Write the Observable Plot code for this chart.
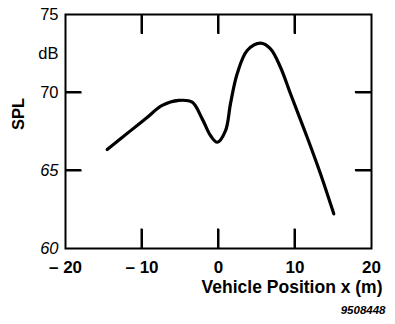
<!DOCTYPE html>
<html>
<head>
<meta charset="utf-8">
<script src="https://cdn.jsdelivr.net/npm/d3@7"></script>
<script src="https://cdn.jsdelivr.net/npm/@observablehq/plot@0.6"></script>
<style>
  html, body { margin: 0; padding: 0; background: #fff; }
</style>
</head>
<body>
<div id="chart"></div>
<script>
// Vehicle position (m)
const positionX = [-14.55, -11.73, -9.54, -7.36, -5.19, -3.44, -2.13, -1.05, -0.17, 0.92, 1.57, 2.44, 3.75, 5.49, 6.80, 8.10, 9.41, 11.59, 13.33, 15.07];
// SPL (dB)
const splDb = [66.35, 67.46, 68.31, 69.17, 69.49, 69.38, 68.31, 67.24, 66.81, 67.56, 69.29, 71.20, 72.69, 73.16, 72.80, 71.62, 69.92, 67.13, 64.79, 62.22];

const xTicks = [-20, -10, 0, 10, 20];
const xInnerTicks = [-10, 0, 10];
const xLabels = ["\u2013 20", "\u2013 10", "0", "10", "20"];
const yInnerTicks = [70, 65];
const yUprightTicks = [75, 70];
const yUprightLabels = ["75", "70"];
const yItalicTicks = [65, 60];
const yItalicLabels = ["65", "60"];

const data = positionX.map((x, i) => ({x, y: splDb[i]}));

// inward tick segments built from the tick arrays
const xTickSegs = xInnerTicks.flatMap(t => [
  {x: t, y1: 60, y2: 61.25},
  {x: t, y1: 75, y2: 73.75}
]);
const yTickSegs = yInnerTicks.flatMap(t => [
  {y: t, x1: -20, x2: -17.9},
  {y: t, x1: 20, x2: 17.9}
]);

const font = "'Liberation Sans', Arial, sans-serif";

const chart = Plot.plot({
  width: 395,
  height: 324,
  marginLeft: 65,
  marginRight: 24,
  marginTop: 14,
  marginBottom: 76,
  x: {domain: [-20, 20], axis: null},
  y: {domain: [60, 75], axis: null},
  style: {fontFamily: font, color: "#000", background: "#fff"},
  marks: [
    Plot.frame({stroke: "#000", strokeWidth: 2}),
    // inward ticks as thin filled rects
    Plot.rect(xTickSegs, {x1: "x", x2: "x", y1: "y1", y2: "y2", insetLeft: -1, insetRight: -1, fill: "#000"}),
    Plot.rect(yTickSegs, {y1: "y", y2: "y", x1: "x1", x2: "x2", insetTop: -1, insetBottom: -1, fill: "#000"}),
    // inward ticks as links
    Plot.link(xTickSegs, {x1: "x", x2: "x", y1: "y1", y2: "y2", stroke: "#000", strokeWidth: 2}),
    Plot.link(yTickSegs, {y1: "y", y2: "y", x1: "x1", x2: "x2", stroke: "#000", strokeWidth: 2}),
    Plot.line(data, {x: "x", y: "y", curve: "catmull-rom", stroke: "#000", strokeWidth: 3.2}),
    // x tick labels
    Plot.text(xTicks, {x: d => d, frameAnchor: "bottom", dy: 24, text: (d, i) => xLabels[i], fontSize: 17, fontWeight: "bold", fill: "#000"}),
    // y tick labels
    Plot.text(yUprightTicks, {y: d => d, frameAnchor: "left", dx: -7, textAnchor: "end", text: (d, i) => yUprightLabels[i], fontSize: 16.5, fill: "#000"}),
    Plot.text(yItalicTicks, {y: d => d, frameAnchor: "left", dx: -7, textAnchor: "end", text: (d, i) => yItalicLabels[i], fontSize: 16.5, fontStyle: "italic", fill: "#000"}),
    // dB unit
    Plot.text(["dB"], {y: 72.5, frameAnchor: "left", dx: -7, textAnchor: "end", fontSize: 16.5, fill: "#000"}),
    // y axis title
    Plot.text(["SPL"], {y: 67.6, frameAnchor: "left", dx: -47, rotate: -90, fontSize: 16.5, fontWeight: "bold", fill: "#000"}),
    // x axis title
    Plot.text(["Vehicle Position x (m)"], {frameAnchor: "bottom-right", dx: 11, dy: 44, textAnchor: "end", fontSize: 17.5, fontWeight: "bold", fill: "#000"}),
    // figure number
    Plot.text(["9508448"], {frameAnchor: "bottom-right", dx: 14, dy: 65, textAnchor: "end", fontSize: 11.5, fontWeight: "bold", fontStyle: "italic", fill: "#000"})
  ]
});
document.getElementById("chart").appendChild(chart);
</script>
</body>
</html>
